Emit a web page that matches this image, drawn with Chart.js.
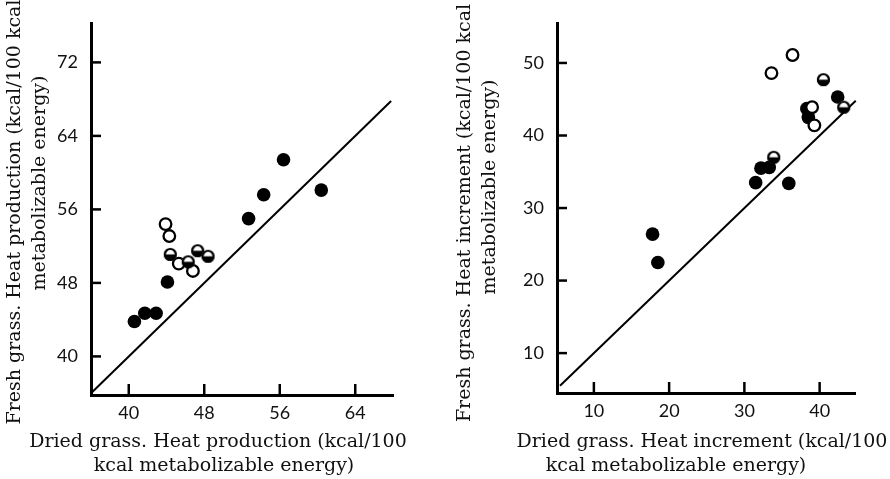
<!DOCTYPE html>
<html>
<head>
<meta charset="utf-8">
<script src="https://cdn.jsdelivr.net/npm/chart.js@4"></script>
<style>
  html, body { margin: 0; padding: 0; background: #fff; }
  #wrap { position: relative; width: 890px; height: 479px; overflow: hidden; }
  canvas { position: absolute; top: 0; }
  #c1 { left: 0; }
  #c2 { left: 445px; }
</style>
</head>
<body>
<div id="wrap">
  <canvas id="c1" width="445" height="479"></canvas>
  <canvas id="c2" width="445" height="479"></canvas>
</div>
<script>
// ---------- DATA ----------
// Left panel: heat production
const leftFilledX = [40.6, 41.7, 42.9, 44.1, 52.7, 54.3, 56.4, 60.4];
const leftFilledY = [43.8, 44.7, 44.7, 48.1, 55.0, 57.6, 61.4, 58.1];
const leftOpenX   = [43.9, 44.3, 45.3, 46.8];
const leftOpenY   = [54.4, 53.1, 50.1, 49.3];
const leftHalfX   = [44.4, 46.3, 47.3, 48.4];
const leftHalfY   = [51.1, 50.3, 51.5, 50.9];
const leftLine    = [36, 67.8];
const leftXTicks  = [40, 48, 56, 64];
const leftYTicks  = [40, 48, 56, 64, 72];

// Right panel: heat increment
const rightFilledX = [17.8, 18.5, 31.5, 35.9, 32.2, 33.3, 38.3, 38.5, 42.4];
const rightFilledY = [26.4, 22.5, 33.5, 33.4, 35.5, 35.6, 43.7, 42.5, 45.3];
const rightOpenX   = [33.6, 36.4, 39.0, 39.3];
const rightOpenY   = [48.6, 51.1, 43.9, 41.4];
const rightHalfX   = [40.5, 33.9, 43.2];
const rightHalfY   = [47.7, 37.0, 43.9];
const rightLine    = [5.5, 44.8];
const rightXTicks  = [10, 20, 30, 40];
const rightYTicks  = [10, 20, 30, 40, 50];

const leftXTitle  = ['Dried grass. Heat production (kcal/100', 'kcal metabolizable energy)'];
const leftYTitle  = ['Fresh grass. Heat production (kcal/100 kcal', 'metabolizable energy)'];
const rightXTitle = ['Dried grass. Heat increment (kcal/100', 'kcal metabolizable energy)'];
const rightYTitle = ['Fresh grass. Heat increment (kcal/100 kcal', 'metabolizable energy)'];

// ---------- helpers ----------
function pts(xs, ys) { return xs.map((x, i) => ({ x: x, y: ys[i] })); }

function halfCircle(r) {
  const c = document.createElement('canvas');
  const s = Math.ceil(2 * r + 4);
  c.width = s; c.height = s;
  const g = c.getContext('2d');
  const cx = s / 2, cy = s / 2;
  g.beginPath(); g.arc(cx, cy, r, 0, Math.PI * 2); g.fillStyle = '#fff'; g.fill();
  g.beginPath(); g.arc(cx, cy, r, 0, Math.PI); g.closePath(); g.fillStyle = '#000'; g.fill();
  g.beginPath(); g.arc(cx, cy, r - 1, 0, Math.PI * 2); g.lineWidth = 2.2; g.strokeStyle = '#000'; g.stroke();
  return c;
}
const halfImg = halfCircle(6.5);

const serif = '"DejaVu Serif", "Liberation Serif", serif';
const sans = 'Lato, "Open Sans", sans-serif';

function makeChart(id, cfg) {
  const titlePlugin = {
    id: 'titlesTicks',
    afterDatasetsDraw(chart) {
      const ctx = chart.ctx;
      const xs = chart.scales.x, ys = chart.scales.y;
      const ca = chart.chartArea;
      // inward tick marks
      ctx.save();
      ctx.strokeStyle = '#000';
      ctx.lineWidth = 2.5;
      cfg.xTicks.forEach(v => {
        const px = xs.getPixelForValue(v);
        ctx.beginPath(); ctx.moveTo(px, ca.bottom); ctx.lineTo(px, ca.bottom - 11); ctx.stroke();
      });
      cfg.yTicks.forEach(v => {
        const py = ys.getPixelForValue(v);
        ctx.beginPath(); ctx.moveTo(ca.left, py); ctx.lineTo(ca.left + 10, py); ctx.stroke();
      });
      ctx.restore();
    },
    afterDraw(chart) {
      const ctx = chart.ctx;
      ctx.save();
      ctx.fillStyle = '#111';
      ctx.font = '19px ' + serif;
      ctx.textAlign = 'center';
      ctx.textBaseline = 'middle';
      cfg.xTitle.forEach((t, i) => {
        ctx.fillText(t, cfg.xTitlePos[i][0], cfg.xTitlePos[i][1]);
      });
      cfg.yTitle.forEach((t, i) => {
        ctx.save();
        ctx.translate(cfg.yTitlePos[i][0], cfg.yTitlePos[i][1]);
        ctx.rotate(-Math.PI / 2);
        ctx.fillText(t, 0, 0);
        ctx.restore();
      });
      ctx.restore();
    }
  };

  return new Chart(document.getElementById(id), {
    type: 'scatter',
    data: {
      datasets: [
        {
          type: 'line',
          data: pts(cfg.line, cfg.line),
          borderColor: '#000', borderWidth: 2, pointRadius: 0, fill: false, clip: false, order: 4
        },
        {
          data: pts(cfg.filledX, cfg.filledY),
          pointStyle: 'circle', pointRadius: 6.8, backgroundColor: '#000', borderColor: '#000', borderWidth: 0, order: 3
        },
        {
          data: pts(cfg.openX, cfg.openY),
          pointStyle: 'circle', pointRadius: 5.8, backgroundColor: '#fff', borderColor: '#000', borderWidth: 2.3, order: 2
        },
        {
          data: pts(cfg.halfX, cfg.halfY),
          pointStyle: halfImg, pointRadius: 6.5, order: 1
        }
      ]
    },
    options: {
      responsive: false,
      animation: false,
      events: [],
      layout: { padding: cfg.padding },
      plugins: { legend: { display: false }, tooltip: { enabled: false } },
      scales: {
        x: {
          type: 'linear', min: cfg.xMin, max: cfg.xMax,
          afterBuildTicks: s => { s.ticks = cfg.xTicks.map(v => ({ value: v })); },
          afterFit: s => { s.height = cfg.xHeight; },
          grid: { display: true, drawOnChartArea: false, drawTicks: false },
          border: { display: true, color: '#000', width: 3 },
          ticks: { color: '#111', font: { family: sans, size: 18 }, padding: 7, maxRotation: 0, autoSkip: false }
        },
        y: {
          type: 'linear', min: cfg.yMin, max: cfg.yMax,
          afterBuildTicks: s => { s.ticks = cfg.yTicks.map(v => ({ value: v })); },
          afterFit: s => { s.width = cfg.yWidth; },
          grid: { display: true, drawOnChartArea: false, drawTicks: false },
          border: { display: true, color: '#000', width: 3 },
          ticks: { color: '#111', font: { family: sans, size: 18 }, padding: 13, autoSkip: false }
        }
      }
    },
    plugins: [titlePlugin]
  });
}

makeChart('c1', {
  filledX: leftFilledX, filledY: leftFilledY,
  openX: leftOpenX, openY: leftOpenY,
  halfX: leftHalfX, halfY: leftHalfY,
  line: leftLine, xTicks: leftXTicks, yTicks: leftYTicks,
  xMin: 36, xMax: 68, yMin: 35.8, yMax: 76.2,
  padding: { left: 0, top: 21, right: 52, bottom: 0 },
  yWidth: 91, xHeight: 84,
  xTitle: leftXTitle, yTitle: leftYTitle,
  xTitlePos: [[218, 442], [224, 466]],
  yTitlePos: [[15, 212], [40, 183]]
});

makeChart('c2', {
  filledX: rightFilledX, filledY: rightFilledY,
  openX: rightOpenX, openY: rightOpenY,
  halfX: rightHalfX, halfY: rightHalfY,
  line: rightLine, xTicks: rightXTicks, yTicks: rightYTicks,
  xMin: 5.1, xMax: 44.7, yMin: 4.5, yMax: 55.4,
  padding: { left: 0, top: 15, right: 35, bottom: 0 },
  yWidth: 112, xHeight: 86,
  xTitle: rightXTitle, yTitle: rightYTitle,
  xTitlePos: [[257, 442], [231, 466]],
  yTitlePos: [[20, 213], [45, 187]]
});
</script>
</body>
</html>
